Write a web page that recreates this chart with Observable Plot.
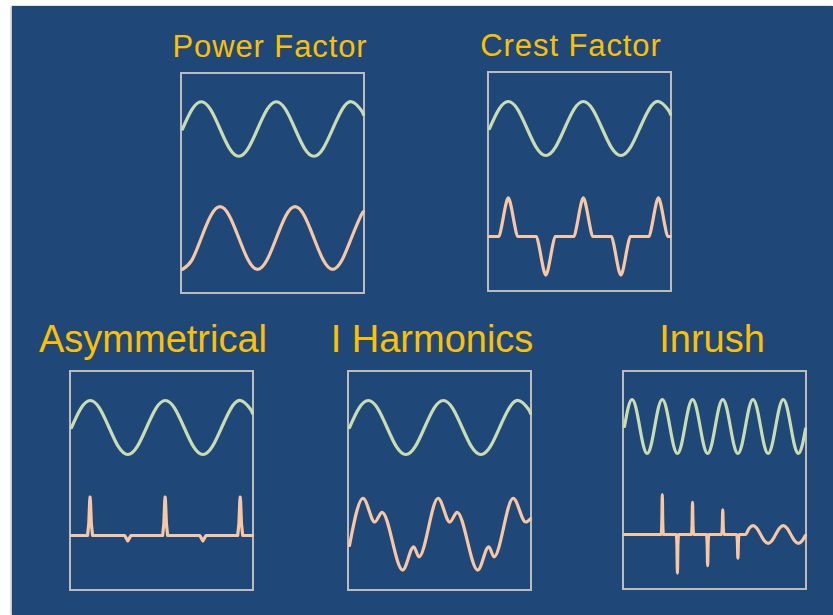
<!DOCTYPE html>
<html><head><meta charset="utf-8">
<script src="https://cdn.jsdelivr.net/npm/d3@7"></script>
<script src="https://cdn.jsdelivr.net/npm/@observablehq/plot@0.6"></script>
<style>
html,body{margin:0;padding:0;background:#fff;}
#page{position:relative;width:833px;height:615px;overflow:hidden;}
#bg{position:absolute;left:12px;top:6px;width:821px;height:609px;background:#1f4778;box-shadow:-1px 0 2px rgba(0,0,0,0.35);}
.title{position:absolute;transform:translateX(-50%);white-space:nowrap;color:#ffc000;font-family:"Liberation Sans",Arial,sans-serif;}
.panel{position:absolute;border:2px solid #bcbcbc;}
.panel svg{display:block;overflow:visible;}
</style></head><body><div id="page"><div id="bg"></div></div>
<script>
// ---- data (phase angle in degrees of the supply voltage, per-unit values) ----
const titles = ["Power Factor", "Crest Factor", "Asymmetrical", "I Harmonics", "Inrush"];

// supply voltage (same in four panels)
const voltT = [0,45,90,135,180,225,270,315,360,405,450,495,540,585,630,675,720,765,810,855,868];
const voltV = [0,0.71,1,0.71,0,-0.71,-1,-0.71,0,0.71,1,0.71,0,-0.71,-1,-0.71,0,0.71,1,0.71,0.53];

// Power Factor: lagging current
const pfT = [0,45,90,135,180,225,270,315,360,405,450,495,540,585,630,675,720,765,810,855,868];
const pfI = [-1.15,-0.81,0,0.81,1.15,0.81,0,-0.81,-1.15,-0.81,0,0.81,1.15,0.81,0,-0.81,-1.15,-0.81,0,0.81,0.97];

// Crest Factor: peaky current pulses
const cfT = [0,45,60,72,82,90,98,108,120,135, 225,240,252,262,270,278,288,300,315,
             405,420,432,442,450,458,468,480,495, 585,600,612,622,630,638,648,660,675,
             765,780,792,802,810,818,828,840,855,868];
const cfI = [0,0,0.45,0.95,1.3,1.43,1.3,0.95,0.45,0, 0,-0.45,-0.95,-1.3,-1.43,-1.3,-0.95,-0.45,0,
             0,0.45,0.95,1.3,1.43,1.3,0.95,0.45,0, 0,-0.45,-0.95,-1.3,-1.43,-1.3,-0.95,-0.45,0,
             0,0.45,0.95,1.3,1.43,1.3,0.95,0.45,0,0];

// Asymmetrical: narrow positive spikes, small negative dips
const asT = [0,77,83,87,89,91,95,101, 255,270,285, 437,443,447,449,451,455,461, 615,630,645, 797,803,807,809,811,815,821, 868];
const asI = [0,0,0.45,1.25,1.42,1.25,0.45,0, 0,-0.2,0, 0,0.45,1.25,1.42,1.25,0.45,0, 0,-0.2,0, 0,0.45,1.25,1.42,1.25,0.45,0, 0];

// I Harmonics: distorted current
const ihT = [0,65,121,156,255,308,333,425,481,516,615,668,693,785,845,868];
const ihI = [-0.37,1.38,0.5,0.86,-1.28,-0.42,-0.79,1.38,0.5,0.86,-1.28,-0.42,-0.79,1.38,0.5,0.62];

// Inrush: faster time base
const inT = [0,45,90,135,180,225,270,315,360,405,450,495,540,585,630,675,720,765,810,855,
             900,945,990,1035,1080,1125,1170,1215,1260,1305,1350,1395,1440,1485,1530,1575,
             1620,1665,1710,1755,1800,1845,1890,1935,1980,2025,2070,2115,2155];
const inV = [0,0.71,1,0.71,0,-0.71,-1,-0.71, 0,0.71,1,0.71,0,-0.71,-1,-0.71,
             0,0.71,1,0.71,0,-0.71,-1,-0.71, 0,0.71,1,0.71,0,-0.71,-1,-0.71,
             0,0.71,1,0.71,0,-0.71,-1,-0.71, 0,0.71,1,0.71,0,-0.71,-1,-0.71, -0.09];
const inIT = [0, 436,444,450,456,464, 616,624,630,636,644, 796,804,810,816,824,
              976,984,990,996,1004, 1156,1164,1170,1176,1184, 1336,1344,1350,1356,1364,
              1440,1485,1530,1575,1620,1665,1710,1755,1800,1845,1890,1935,1980,2025,2070,2115,2155];
const inI = [0, 0,0.35,1.48,0.35,0, 0,-0.35,-1.43,-0.35,0, 0,0.3,1.19,0.3,0,
             0,-0.3,-1.15,-0.3,0, 0,0.25,0.91,0.25,0, 0,-0.25,-0.88,-0.25,0,
             0,0.23,0.33,0.23,0,-0.23,-0.33,-0.23,0,0.23,0.33,0.23,0,-0.23,-0.33,-0.23,-0.03];

// ---- layout / style ----
const GREEN = "#c8ddb2", ORANGE = "#f8c7a4";
const page = document.getElementById("page");

function addTitle(text, cx, top, size, spacing) {
  const d = document.createElement("div");
  d.className = "title";
  d.textContent = text;
  d.style.left = cx + "px";
  d.style.top = top + "px";
  d.style.fontSize = size + "px";
  d.style.lineHeight = size + "px";
  d.style.letterSpacing = spacing + "px";
  page.appendChild(d);
}

function addPanel(p) {
  const rows = (T, Y, s) => T.map((t, k) => ({t, y: Y[k], s}));
  const chart = Plot.plot({
    width: p.w, height: p.h, margin: 0,
    style: {background: "transparent", overflow: "visible"},
    x: {domain: p.domain, axis: null},
    y: {domain: [-2, 2], axis: null},
    fy: {domain: ["V", "I"], axis: null, padding: 0, label: null},
    marks: [
      Plot.line(rows(p.vt, p.vv, "V"), {x: "t", y: "y", fy: "s", stroke: GREEN, strokeWidth: 3.2, curve: "natural"}),
      Plot.line(rows(p.it, p.iv, "I"), {x: "t", y: "y", fy: "s", stroke: ORANGE, strokeWidth: 3.2, curve: p.curve})
    ]
  });
  const box = document.createElement("div");
  box.className = "panel";
  box.style.left = p.left + "px";
  box.style.top = p.top + "px";
  box.style.width = p.w + "px";
  box.style.height = p.h + "px";
  box.appendChild(chart);
  page.appendChild(box);
}

addTitle(titles[0], 270, 31, 31, 0.9);
addTitle(titles[1], 571, 30, 31, 0.9);
addTitle(titles[2], 153, 320, 38, 0);
addTitle(titles[3], 432, 320, 38, 0);
addTitle(titles[4], 712, 320, 38, 0);

addPanel({left: 180, top: 72, w: 181, h: 218, domain: [0, 868], vt: voltT, vv: voltV, it: pfT, iv: pfI, curve: "natural"});
addPanel({left: 487, top: 71, w: 181, h: 217, domain: [0, 868], vt: voltT, vv: voltV, it: cfT, iv: cfI, curve: "monotone-x"});
addPanel({left: 69, top: 370, w: 181, h: 217, domain: [0, 868], vt: voltT, vv: voltV, it: asT, iv: asI, curve: "linear"});
addPanel({left: 347, top: 370, w: 181, h: 217, domain: [0, 868], vt: voltT, vv: voltV, it: ihT, iv: ihI, curve: "monotone-x"});
addPanel({left: 622, top: 370, w: 181, h: 216, domain: [0, 2155], vt: inT, vv: inV, it: inIT, iv: inI, curve: "monotone-x"});
</script></body></html>
